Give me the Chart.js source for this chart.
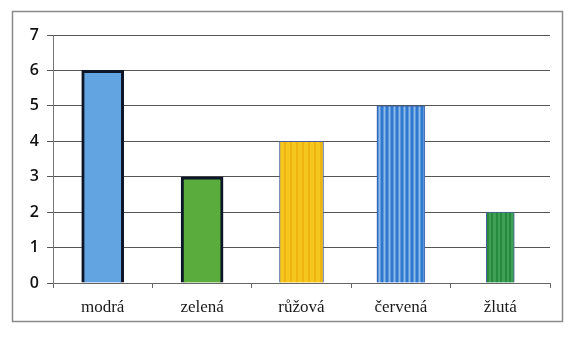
<!DOCTYPE html>
<html>
<head>
<meta charset="utf-8">
<script src="https://cdn.jsdelivr.net/npm/chart.js@4"></script>
<style>
  html, body { margin: 0; padding: 0; background: #fff; }
  #wrap { width: 578px; height: 337px; }
</style>
</head>
<body>
<div id="wrap"><canvas id="barChart" width="578" height="337"></canvas></div>
<script>
const categories = ["modrá", "zelená", "růžová", "červená", "žlutá"];
const values = [6, 3, 4, 5, 2];
const yTicks = [0, 1, 2, 3, 4, 5, 6, 7];

const ctx = document.getElementById("barChart");
const pctx = ctx.getContext("2d");

// crayon-ish stripes for the hand drawn bars
function streaks(w, base, dark, xs, lw) {
  const c = document.createElement("canvas");
  c.width = w; c.height = 40;
  const g = c.getContext("2d");
  g.fillStyle = base;
  g.fillRect(0, 0, w, 40);
  g.strokeStyle = dark;
  g.lineWidth = lw;
  xs.forEach(function (x) {
    g.beginPath(); g.moveTo(x, 0); g.lineTo(x, 40); g.stroke();
  });
  return pctx.createPattern(c, "repeat");
}

const fills = [
  "#62a3e2",
  "#5aad3c",
  streaks(12, "#f6c51e", "#eeb40f", [3, 9], 2),
  streaks(10, "#8dbbe8", "#2f78cf", [2, 7], 3),
  streaks(9, "#3f9f55", "#258a3e", [2, 6], 2)
];
const borders = ["#0d1626", "#0d1626", "#4a5f9a", "#3b5aa8", "#4a5f9a"];
const borderWidths = [3, 3, 1, 1, 1];
const thickness = [42, 42, 44, 48, 28];

// one dataset per bar so each can keep its own width
const datasets = values.map(function (v, i) {
  return {
    label: categories[i],
    data: values.map(function (_, j) { return j === i ? v : null; }),
    backgroundColor: fills[i],
    borderColor: borders[i],
    borderWidth: borderWidths[i],
    barThickness: thickness[i],
    grouped: false,
  };
});

const frame = {
  id: "frame",
  beforeDraw(chart) {
    const g = chart.ctx;
    g.save();
    g.fillStyle = "#fff";
    g.fillRect(0, 0, chart.width, chart.height);
    g.strokeStyle = "#8a8a8a";
    g.lineWidth = 1.5;
    g.strokeRect(12.5, 11.5, 550, 310);
    g.restore();
  }
};

new Chart(ctx, {
  type: "bar",
  data: { labels: categories, datasets: datasets },
  options: {
    responsive: false,
    animation: false,
    layout: { padding: { left: 14, right: 28, top: 35, bottom: 15 } },
    plugins: { legend: { display: false }, tooltip: { enabled: false } },
    scales: {
      x: {
        grid: { offset: true, drawOnChartArea: false, tickLength: 5, color: "#666" },
        border: { color: "#666" },
        ticks: {
          color: "#1a1a1a",
          padding: 9,
          font: { family: "Liberation Serif", size: 17 }
        },
        afterFit(s) { s.height = 39; }
      },
      y: {
        min: 0,
        max: 7,
        afterBuildTicks(s) { s.ticks = yTicks.map(function (v) { return { value: v }; }); },
        grid: { color: "#555", tickLength: 6 },
        border: { color: "#777" },
        ticks: {
          color: "#111",
          padding: 8,
          font: { family: "Open Sans", size: 16, weight: "600" }
        },
        afterFit(s) { s.width = 39; }
      }
    }
  },
  plugins: [frame]
});
</script>
</body>
</html>
